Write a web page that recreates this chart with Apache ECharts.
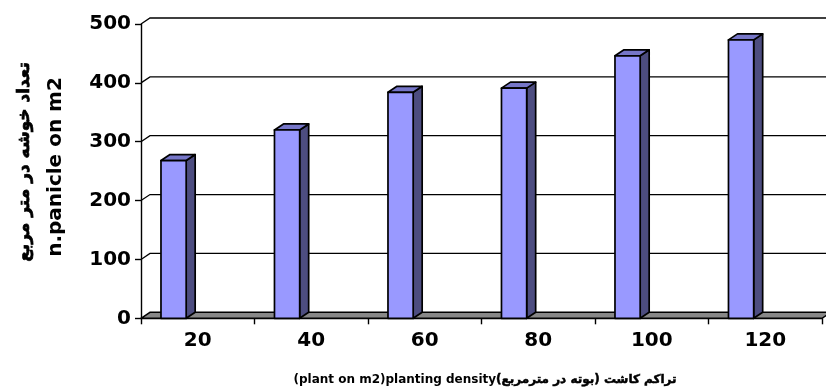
<!DOCTYPE html>
<html>
<head>
<meta charset="utf-8">
<script src="https://cdn.jsdelivr.net/npm/echarts@6/dist/echarts.min.js"></script>
<style>
  html, body { margin: 0; padding: 0; background: #fff; }
  #chart { width: 826px; height: 392px; }
</style>
</head>
<body>
<div id="chart"></div>
<script>
// Planting density categories and panicle counts per square metre
const densities = ['20', '40', '60', '80', '100', '120'];
const panicles = [268, 320, 384, 391, 446, 473];
const yTicks = [0, 100, 200, 300, 400, 500];

const yTitleEn = 'n.panicle on m2';
const yTitleFa = 'تعداد خوشه در متر مربع';
const xTitleEn = '(plant on m2)planting density';
const xTitleFa = 'تراکم کاشت (بوته در مترمربع)';

// pseudo-3D depth of the walls and columns (pixels)
const DX = 9, DY = 6;
const FRONT = '#9999FF', SIDE = '#4D4D80', TOP = '#7676C8', FLOOR = '#888888';
const FONT = '"DejaVu Sans", "Liberation Sans", sans-serif';

const chart = echarts.init(document.getElementById('chart'), null, { renderer: 'canvas' });

// back wall gridlines and the grey floor
function renderWall(params, api) {
  const cs = params.coordSys;
  const v = api.value(1);
  const y = api.coord([0, v])[1];
  const x0 = cs.x, x1 = cs.x + cs.width;
  if (v === 0) {
    return {
      type: 'polygon',
      shape: { points: [[x0, y], [x0 + DX, y - DY], [x1 + DX, y - DY], [x1, y]] },
      style: { fill: FLOOR, stroke: '#000', lineWidth: 1.4 }
    };
  }
  return {
    type: 'polyline',
    shape: { points: [[x0, y], [x0 + DX, y - DY], [x1 + DX + 20, y - DY]] },
    style: { stroke: '#000', fill: null, lineWidth: 1.3 }
  };
}

// 3D column: front face, side face and top face
function renderBar(params, api) {
  const i = api.value(0), v = api.value(1);
  const top = api.coord([i, v]);
  const base = api.coord([i, 0]);
  const bw = api.size([1, 0])[0];
  const l = top[0] - 0.324 * bw, r = l + 0.222 * bw;
  const t = top[1], b = base[1];
  const edge = { stroke: '#000', lineWidth: 1.7, lineJoin: 'round' };
  return {
    type: 'group',
    children: [
      { type: 'polygon', shape: { points: [[r, b], [r, t], [r + DX, t - DY], [r + DX, b - DY]] },
        style: Object.assign({ fill: SIDE }, edge) },
      { type: 'polygon', shape: { points: [[l, t], [l + DX, t - DY], [r + DX, t - DY], [r, t]] },
        style: Object.assign({ fill: TOP }, edge) },
      { type: 'rect', shape: { x: l, y: t, width: r - l, height: b - t },
        style: Object.assign({ fill: FRONT }, edge) }
    ]
  };
}

const labelStyle = { fontFamily: FONT, fontWeight: 'bold', fontSize: 20, color: '#000' };

chart.setOption({
  animation: false,
  backgroundColor: '#fff',
  grid: { left: 141, right: 4, top: 24, bottom: 73.7, containLabel: false, outerBoundsMode: 'none' },
  xAxis: {
    type: 'category',
    data: densities,
    boundaryGap: true,
    axisLine: { show: true, lineStyle: { color: '#000', width: 1.4 } },
    axisTick: { show: true, inside: false, length: 6, lineStyle: { color: '#000', width: 1.4 } },
    axisLabel: Object.assign({ margin: 12 }, labelStyle),
    splitLine: { show: false }
  },
  yAxis: {
    type: 'value',
    min: 0, max: 500, interval: 100,
    axisLine: { show: true, lineStyle: { color: '#000', width: 1.4 } },
    axisTick: { show: true, inside: false, length: 6, lineStyle: { color: '#000', width: 1.4 } },
    axisLabel: Object.assign({ margin: 10 }, labelStyle),
    splitLine: { show: false }
  },
  series: [
    {
      type: 'custom',
      renderItem: renderWall,
      data: yTicks.map(v => [0, v]),
      encode: { x: 0, y: 1 },
      clip: false,
      silent: true,
      z: 1
    },
    {
      type: 'custom',
      renderItem: renderBar,
      data: panicles.map((v, i) => [i, v]),
      encode: { x: 0, y: 1 },
      clip: false,
      z: 3
    }
  ],
  graphic: [
    { type: 'text', x: 56, y: 167, rotation: Math.PI / 2,
      style: { text: yTitleEn, font: 'bold 20px ' + FONT, fill: '#000', align: 'center', verticalAlign: 'middle' } },
    { type: 'text', x: 25, y: 162, rotation: Math.PI / 2,
      style: { text: yTitleFa, font: 'bold 17px ' + FONT, fill: '#000', stroke: '#000', lineWidth: 0.7,
               align: 'center', verticalAlign: 'middle' } },
    { type: 'text', x: 485, y: 380,
      style: {
        text: '{en|' + xTitleEn + '}{fa|\u2067' + xTitleFa + '\u2069}',
        align: 'center', verticalAlign: 'middle',
        rich: {
          en: { font: 'bold 12px ' + FONT, fill: '#000' },
          fa: { font: 'bold 12px ' + FONT, fill: '#000', stroke: '#000', lineWidth: 0.5 }
        }
      } }
  ]
});
</script>
</body>
</html>
